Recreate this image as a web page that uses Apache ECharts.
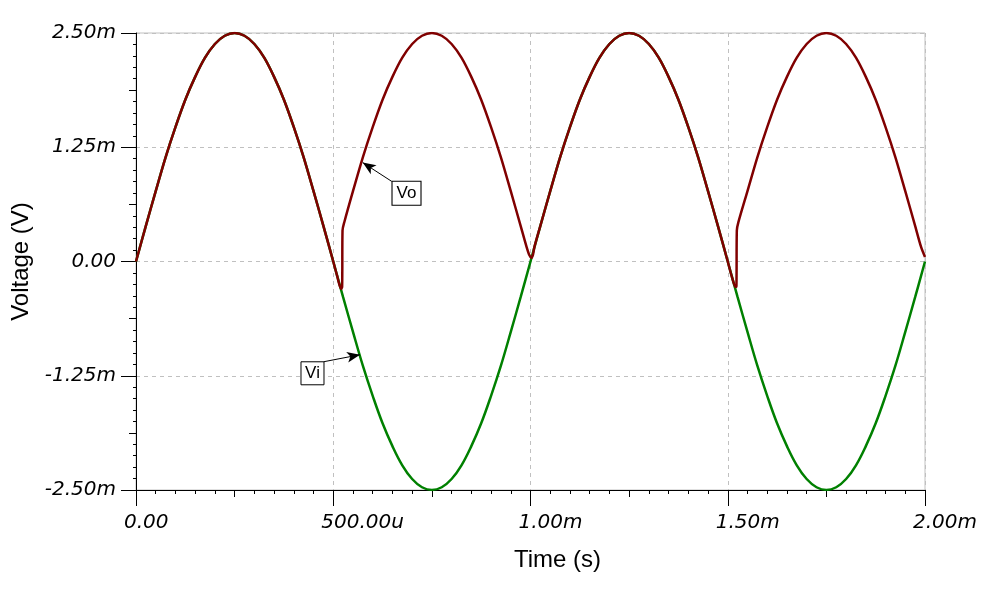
<!DOCTYPE html>
<html><head><meta charset="utf-8">
<script src="https://cdn.jsdelivr.net/npm/echarts@6/dist/echarts.min.js"></script>
<style>html,body{margin:0;padding:0;background:#fff}#c{width:984px;height:589px}</style>
</head><body><div id="c"></div>
<script>
// Time in ms
const viTime = [0,0.025,0.05,0.075,0.1,0.125,0.15,0.175,0.2,0.225,0.25,0.275,0.3,0.325,0.35,0.375,0.4,0.425,0.45,0.475,
  0.5,0.525,0.55,0.575,0.6,0.625,0.65,0.675,0.7,0.725,0.75,0.775,0.8,0.825,0.85,0.875,0.9,0.925,0.95,0.975,
  1.0,1.025,1.05,1.075,1.1,1.125,1.15,1.175,1.2,1.225,1.25,1.275,1.3,1.325,1.35,1.375,1.4,1.425,1.45,1.475,
  1.5,1.525,1.55,1.575,1.6,1.625,1.65,1.675,1.7,1.725,1.75,1.775,1.8,1.825,1.85,1.875,1.9,1.925,1.95,1.975,2.0];
// Voltage in mV
const vi = [0,0.39,0.77,1.14,1.47,1.77,2.02,2.23,2.38,2.47,2.50,2.47,2.38,2.23,2.02,1.77,1.47,1.14,0.77,0.39,
  0,-0.39,-0.77,-1.14,-1.47,-1.77,-2.02,-2.23,-2.38,-2.47,-2.50,-2.47,-2.38,-2.23,-2.02,-1.77,-1.47,-1.14,-0.77,-0.39,
  0,0.39,0.77,1.14,1.47,1.77,2.02,2.23,2.38,2.47,2.50,2.47,2.38,2.23,2.02,1.77,1.47,1.14,0.77,0.39,
  0,-0.39,-0.77,-1.14,-1.47,-1.77,-2.02,-2.23,-2.38,-2.47,-2.50,-2.47,-2.38,-2.23,-2.02,-1.77,-1.47,-1.14,-0.77,-0.39,0];
const voTime = [0,0.025,0.05,0.075,0.1,0.125,0.15,0.175,0.2,0.225,0.25,0.275,0.3,0.325,0.35,0.375,0.4,0.425,0.45,0.475,0.5,
  0.51,0.52,0.5225,0.5235,0.528,
  0.55,0.575,0.6,0.625,0.65,0.675,0.7,0.725,0.75,0.775,0.8,0.825,0.85,0.875,0.9,0.925,0.95,0.975,
  0.99,0.997,1.002,1.006,1.01,
  1.025,1.05,1.075,1.1,1.125,1.15,1.175,1.2,1.225,1.25,1.275,1.3,1.325,1.35,1.375,1.4,1.425,1.45,1.475,1.5,
  1.51,1.52,1.522,1.523,1.527,
  1.55,1.575,1.6,1.625,1.65,1.675,1.7,1.725,1.75,1.775,1.8,1.825,1.85,1.875,1.9,1.925,1.95,1.975,
  1.99,2.0];
const vo = [0,0.39,0.77,1.14,1.47,1.77,2.02,2.23,2.38,2.47,2.50,2.47,2.38,2.23,2.02,1.77,1.47,1.14,0.77,0.39,0,
  -0.16,-0.30,-0.28,0.34,0.43,
  0.77,1.14,1.47,1.77,2.02,2.23,2.38,2.47,2.50,2.47,2.38,2.23,2.02,1.77,1.47,1.14,0.77,0.39,
  0.16,0.07,0.04,0.07,0.16,
  0.39,0.77,1.14,1.47,1.77,2.02,2.23,2.38,2.47,2.50,2.47,2.38,2.23,2.02,1.77,1.47,1.14,0.77,0.39,0,
  -0.16,-0.28,-0.27,0.34,0.43,
  0.77,1.14,1.47,1.77,2.02,2.23,2.38,2.47,2.50,2.47,2.38,2.23,2.02,1.77,1.47,1.14,0.77,0.39,
  0.16,0.05];
const xTickLabels = ['0.00','500.00u','1.00m','1.50m','2.00m'];
const yTickLabels = ['-2.50m','-1.25m','0.00','1.25m','2.50m'];
const xTitle = 'Time (s)';
const yTitle = 'Voltage (V)';
// annotations: label, box centre [t, v], arrow tail [t, v], arrow tip [t, v]
const annLabels = ['Vo','Vi'];
const annBox = [[0.6857,0.746],[0.4474,-1.223]];
const annTail = [[0.648,0.877],[0.4766,-1.096]];
const annTip = [[0.5747,1.082],[0.5678,-1.020]];

const chart = echarts.init(document.getElementById('c'), null, {renderer:'canvas'});
const tickFont = {fontFamily:'DejaVu Sans', fontStyle:'italic', fontSize:20, color:'#000'};
const black = {color:'#000', width:1};
const option = {
  animation:false,
  backgroundColor:'#fff',
  grid:{left:136, right:59, top:33, bottom:99, containLabel:false, outerBoundsMode:'none',
        show:true, borderColor:'#c0c0c0', borderWidth:1, backgroundColor:'transparent'},
  xAxis:[{
    type:'value', min:0, max:2, interval:0.5, position:'bottom',
    axisLine:{show:true, onZero:false, lineStyle:black},
    axisTick:{show:true, length:16, lineStyle:black},
    minorTick:{show:true, splitNumber:10, length:4, lineStyle:black},
    splitLine:{show:true, lineStyle:{color:'#c0c0c0', type:[4,4], width:1}},
    axisLabel:Object.assign({margin:23, align:'left', padding:[0,0,0,-12],
      formatter:v=>xTickLabels[Math.round(v/0.5)]}, tickFont),
    name:xTitle, nameLocation:'middle', nameGap:58,
    nameTextStyle:{fontFamily:'Liberation Sans', fontSize:24, color:'#000', padding:[0,0,0,54]}
  },{
    type:'value', min:0, max:2, interval:0.25, position:'bottom',
    axisLine:{show:false, onZero:false}, axisTick:{show:true, length:7, lineStyle:black},
    axisLabel:{show:false}, splitLine:{show:false}
  }],
  yAxis:[{
    type:'value', min:-2.5, max:2.5, interval:1.25, position:'left',
    axisLine:{show:true, onZero:false, lineStyle:black},
    axisTick:{show:true, length:15, lineStyle:black},
    minorTick:{show:true, splitNumber:10, length:3, lineStyle:black},
    splitLine:{show:true, lineStyle:{color:'#c0c0c0', type:[4,4], width:1}},
    axisLabel:Object.assign({margin:20, formatter:v=>yTickLabels[Math.round((v+2.5)/1.25)]}, tickFont),
    name:yTitle, nameLocation:'middle', nameGap:92, nameRotate:90,
    nameTextStyle:{fontFamily:'Liberation Sans', fontSize:24, color:'#000', padding:[0,0,10,0]}
  },{
    type:'value', min:-2.5, max:2.5, interval:0.625, position:'left',
    axisLine:{show:false, onZero:false}, axisTick:{show:true, length:7, lineStyle:black},
    axisLabel:{show:false}, splitLine:{show:false}
  }],
  series:[
    {name:'Vi', type:'line', data:viTime.map((t,i)=>[t,vi[i]]), showSymbol:false, smooth:0.4,
     lineStyle:{color:'#008000', width:2.5}, itemStyle:{color:'#008000'}, z:2},
    {name:'Vo', type:'line', data:voTime.map((t,i)=>[t,vo[i]]), showSymbol:false, smooth:0.3,
     lineStyle:{color:'#800000', width:2.5}, itemStyle:{color:'#800000'}, z:3,
     markLine:{silent:true, symbol:['none','arrow'], symbolSize:[8,13],
       label:{show:false}, lineStyle:{color:'#000', width:1, type:'solid'},
       data:annLabels.map((n,i)=>[{coord:annTail[i]},{coord:annTip[i]}])},
     markPoint:{silent:true, symbol:'rect',
       data:annLabels.map((n,i)=>({coord:annBox[i], value:n, symbolSize:[n==='Vo'?29:23, n==='Vo'?24:23]})),
       itemStyle:{color:'#fff', borderColor:'#000', borderWidth:1},
       label:{show:true, position:'inside', formatter:p=>p.value, fontFamily:'Liberation Sans', fontSize:17, color:'#000'}}
    }
  ]
};
chart.setOption(option);
</script></body></html>
